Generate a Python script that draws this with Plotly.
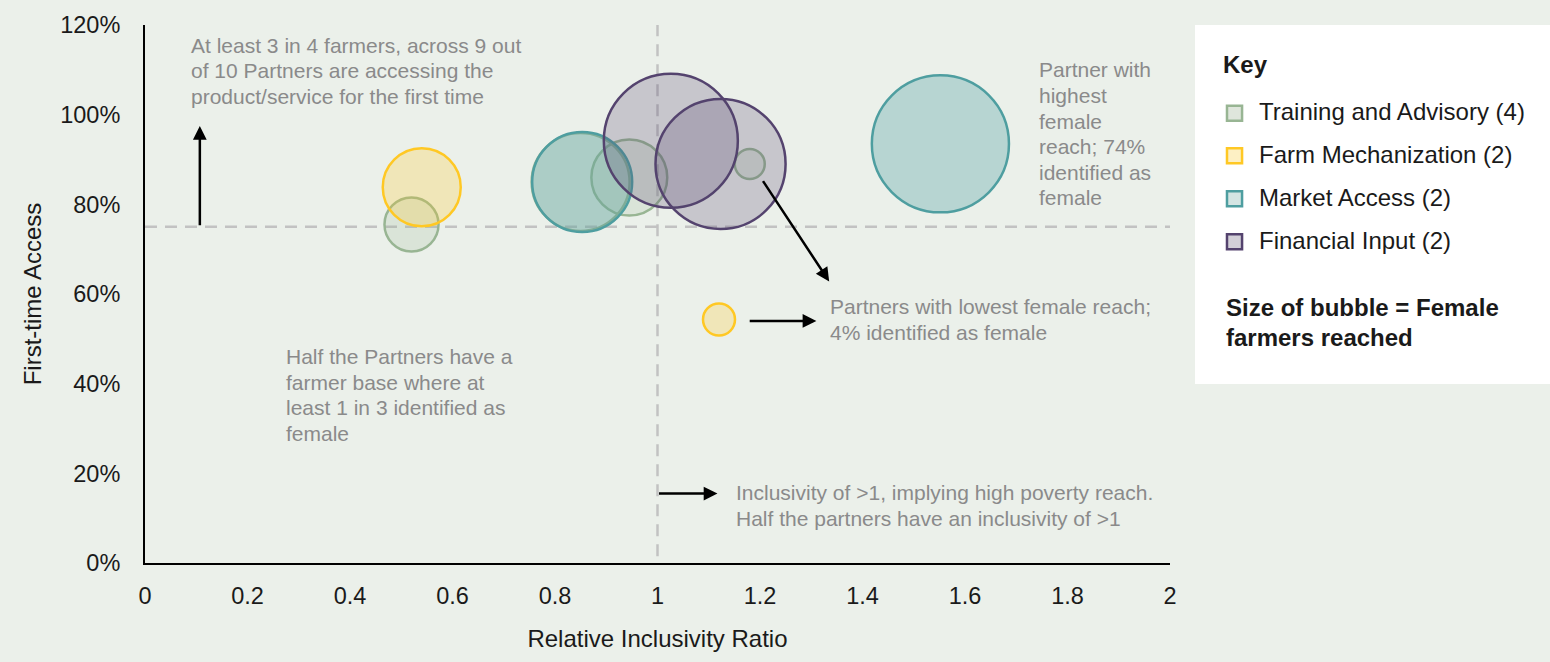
import plotly.graph_objects as go

# ---------------- data ----------------
categories = ["Training and Advisory", "Farm Mechanization", "Market Access", "Financial Input"]
inclusivity = {
    "Training and Advisory": [0.52, 0.85, 0.945, 1.18],
    "Farm Mechanization": [0.54, 1.12],
    "Market Access": [0.853, 1.552],
    "Financial Input": [1.026, 1.123],
}
first_time_access = {
    "Training and Advisory": [0.755, 0.85, 0.86, 0.89],
    "Farm Mechanization": [0.838, 0.543],
    "Market Access": [0.85, 0.935],
    "Financial Input": [0.942, 0.89],
}
female_reached = {
    "Training and Advisory": [7300, 24000, 14400, 2250],
    "Farm Mechanization": [15200, 2560],
    "Market Access": [25000, 47000],
    "Financial Input": [44900, 42300],
}
x_ticks = [0, 0.2, 0.4, 0.6, 0.8, 1, 1.2, 1.4, 1.6, 1.8, 2]
y_ticks = [0, 0.2, 0.4, 0.6, 0.8, 1.0, 1.2]
access_threshold = 0.75
inclusivity_threshold = 1.0

notes = [
    "At least 3 in 4 farmers, across 9 out<br>of 10 Partners are accessing the<br>product/service for the first time",
    "Partner with<br>highest<br>female<br>reach; 74%<br>identified as<br>female",
    "Partners with lowest female reach;<br>4% identified as female",
    "Half the Partners have a<br>farmer base where at<br>least 1 in 3 identified as<br>female",
    "Inclusivity of >1, implying high poverty reach.<br>Half the partners have an inclusivity of >1",
]
size_note = ["Size of bubble = Female", "farmers reached"]

# ---------------- styles ----------------
line_colors = {
    "Training and Advisory": "rgb(152,181,147)",
    "Farm Mechanization": "rgb(255,200,36)",
    "Market Access": "rgb(78,158,160)",
    "Financial Input": "rgb(84,67,110)",
}
fill_colors = {
    "Training and Advisory": "rgba(152,181,147,0.2)",
    "Farm Mechanization": "rgba(255,200,36,0.25)",
    "Market Access": "rgba(78,158,160,0.33)",
    "Financial Input": "rgba(84,67,110,0.24)",
}
legend_fill = {
    "Training and Advisory": "#dfe6dc",
    "Farm Mechanization": "#fdf0c4",
    "Market Access": "#d4e5e3",
    "Financial Input": "#d3d0d8",
}
BG = "#ebf0ea"
FONT = "Liberation Sans, Arial, sans-serif"
GRAY = "#8a8a8a"
DARK = "#1a1a1a"

fig = go.Figure()
for cat in categories:
    fig.add_trace(go.Scatter(
        x=inclusivity[cat], y=first_time_access[cat], mode="markers", name=cat,
        marker=dict(size=female_reached[cat], sizemode="area", sizeref=5.0, opacity=1,
                    color=fill_colors[cat], line=dict(color=line_colors[cat], width=2.5)),
        showlegend=False, hoverinfo="skip",
    ))

shapes = []
shapes.append(dict(type="line", xref="x", yref="y", x0=0, x1=2, y0=access_threshold, y1=access_threshold,
                   line=dict(color="#c2c2c2", width=2.5, dash="12px,8px"), layer="below"))
shapes.append(dict(type="line", xref="x", yref="y", x0=inclusivity_threshold, x1=inclusivity_threshold,
                   y0=0.015, y1=1.2, line=dict(color="#c2c2c2", width=2.5, dash="12px,8px"), layer="below"))
# key box
shapes.append(dict(type="rect", xref="paper", yref="paper", x0=1.0244, x1=1.372, y0=0.3327, y1=1.0,
                   fillcolor="white", line=dict(width=0), layer="below"))

annotations = []
annotations.append(dict(xref="paper", yref="paper", x=1.0517, y=0.9205, xshift=-2, yshift=3,
                        text="<b>Key</b>", showarrow=False,
                        xanchor="left", yanchor="middle", font=dict(size=24, color=DARK, family=FONT)))
leg_y = [0.836, 0.757, 0.677, 0.597]
for cat, yy in zip(categories, leg_y):
    n = len(inclusivity[cat])
    shapes.append(dict(type="rect", xref="paper", yref="paper", x0=1.0556, x1=1.0703,
                       y0=yy - 0.0139, y1=yy + 0.0139, fillcolor=legend_fill[cat],
                       line=dict(color=line_colors[cat], width=2.5)))
    annotations.append(dict(xref="paper", yref="paper", x=1.0875, y=yy, xshift=-3, yshift=1.5,
                            text=f"{cat} ({n})",
                            showarrow=False, xanchor="left", yanchor="middle",
                            font=dict(size=24, color=DARK, family=FONT)))
for k, line in enumerate(size_note):
    annotations.append(dict(xref="paper", yref="paper", x=1.0546, y=0.4734, yshift=1 - k * 29.7, xshift=-2,
                            text=f"<b>{line}</b>", showarrow=False, xanchor="left", yanchor="middle",
                            font=dict(size=24, color=DARK, family=FONT)))

# notes, one annotation per line
note_pos = [(0.0913, 1.148), (1.746, 1.091), (1.3366, 0.5685), (0.2765, 0.457), (1.155, 0.153)]
note_dy = [3, 4, 1.5, 1.5, 1.5]
LINE_H = 25.6
for txt, (nx, ny), dy in zip(notes, note_pos, note_dy):
    for k, line in enumerate(txt.split("<br>")):
        annotations.append(dict(xref="x", yref="y", x=nx, y=ny, xshift=-2.5, yshift=dy - k * LINE_H,
                                text=line, showarrow=False, xanchor="left", yanchor="middle",
                                align="left", font=dict(size=21, color=GRAY, family=FONT)))

# arrows (head at x,y ; tail at ax,ay)
arrows = [
    ((0.107, 0.975), (0.107, 0.75)),
    ((1.335, 0.628), (1.204, 0.855)),
    ((1.31, 0.54), (1.177, 0.54)),
    ((1.117, 0.155), (1.0, 0.155)),
]
for (hx, hy), (tx, ty) in arrows:
    annotations.append(dict(xref="x", yref="y", axref="x", ayref="y", x=hx, y=hy, ax=tx, ay=ty,
                            text="", showarrow=True, arrowhead=2, arrowsize=1.1, arrowwidth=2.5,
                            arrowcolor="black"))

fig.update_layout(
    width=1550, height=662,
    paper_bgcolor=BG, plot_bgcolor=BG,
    margin=dict(l=145, r=380, t=22, b=99),
    font=dict(family=FONT, size=20, color=DARK),
    shapes=shapes, annotations=annotations,
    xaxis=dict(range=[0, 2], tickvals=x_ticks, ticktext=[f"{v:g}" for v in x_ticks],
               showgrid=False, zeroline=False, showline=True, linecolor="black", linewidth=2,
               ticks="", ticklabelstandoff=11, tickfont=dict(size=23.5, color=DARK),
               title=dict(text="Relative Inclusivity Ratio", font=dict(size=24, color=DARK), standoff=22)),
    yaxis=dict(range=[0, 1.2], tickvals=y_ticks, tickformat=".0%",
               showgrid=False, zeroline=False, showline=True, linecolor="black", linewidth=2,
               ticks="", ticklabelstandoff=18, tickfont=dict(size=23.5, color=DARK),
               title=dict(text="First-time Access", font=dict(size=24, color=DARK), standoff=12)),
)

fig.write_html("out.html", config={"displayModeBar": False},
               post_script="document.body.style.margin='0px';")
